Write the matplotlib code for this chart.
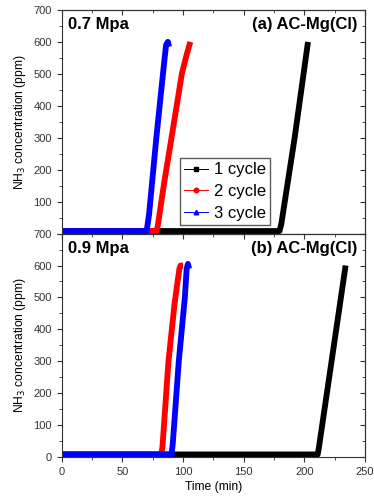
import matplotlib
matplotlib.use('Agg')
import matplotlib.pyplot as plt
from matplotlib.lines import Line2D

plt.rcParams['font.family'] = ['Liberation Sans', 'DejaVu Sans']

# panel (a) 0.7 MPa
a1_x = [0, 179.5, 181, 192, 203]
a1_y = [8, 8, 30, 300, 600]
a2_x = [0, 78, 79, 84.5, 90.5, 95, 99, 103, 106]
a2_y = [8, 8, 20, 160, 300, 405, 500, 560, 600]
a3_x = [0, 70, 72, 78, 84, 86, 87.5, 88.5]
a3_y = [8, 8, 60, 300, 520, 590, 600, 585]

# panel (b) 0.9 MPa
b1_x = [0, 211, 212, 234]
b1_y = [8, 8, 30, 600]
b2_x = [0, 82, 83, 88, 93, 97, 98, 100]
b2_y = [8, 8, 30, 300, 480, 590, 600, 600]
b3_x = [0, 90.5, 91.5, 96.5, 101.5, 103, 104, 105]
b3_y = [8, 8, 40, 300, 500, 590, 605, 590]

labels = ['1 cycle', '2 cycle', '3 cycle']
colors = ['black', 'red', 'blue']
markers = ['s', 'o', '^']

fig = plt.figure(figsize=(3.74, 4.97), dpi=100)
ax1 = fig.add_axes([0.165, 0.530, 0.811, 0.450])
ax2 = fig.add_axes([0.165, 0.0805, 0.811, 0.4495])

panels = [
    (ax1, [(a1_x, a1_y), (a2_x, a2_y), (a3_x, a3_y)], '0.7 Mpa', '(a) AC-Mg(Cl)'),
    (ax2, [(b1_x, b1_y), (b2_x, b2_y), (b3_x, b3_y)], '0.9 Mpa', '(b) AC-Mg(Cl)'),
]

for ax, series, p, name in panels:
    for (x, y), c in zip(series, colors):
        ax.plot(x, y, color=c, lw=4.2, solid_capstyle='butt', solid_joinstyle='round')
    ax.set_xlim(0, 250)
    ax.set_ylim(0, 700)
    ax.set_yticks(range(0, 701, 100))
    ax.set_yticks(range(0, 701, 50), minor=True)
    ax.set_xticks(range(0, 251, 50))
    ax.set_xticks(range(0, 251, 25), minor=True)
    ax.tick_params(which='both', direction='out', labelsize=8, colors='#333333')
    ax.tick_params(which='major', length=3.5)
    ax.tick_params(which='minor', length=2)
    for s in ax.spines.values():
        s.set_color('#333333')
    sy = ax.secondary_yaxis('right')
    sy.set_yticks(range(0, 701, 100))
    sy.set_yticks(range(0, 701, 50), minor=True)
    sy.tick_params(which='both', direction='in', labelright=False, colors='#333333')
    sy.tick_params(which='major', length=3.5)
    sy.tick_params(which='minor', length=2)
    sx = ax.secondary_xaxis('top')
    sx.set_xticks(range(0, 251, 50))
    sx.set_xticks(range(0, 251, 25), minor=True)
    sx.tick_params(which='both', direction='in', labeltop=False, colors='#333333')
    sx.tick_params(which='major', length=3.5)
    sx.tick_params(which='minor', length=2)
    ax.set_ylabel('NH$_3$ concentration (ppm)', fontsize=8.7, labelpad=4)
    ax.text(0.02, 0.933, p, transform=ax.transAxes, fontsize=12,
            fontweight='bold', va='center', ha='left')
    ax.text(0.974, 0.933, name, transform=ax.transAxes, fontsize=12,
            fontweight='bold', va='center', ha='right')

ax1.tick_params(axis='x', labelbottom=False)
ax1.set_yticklabels([''] + [str(v) for v in range(100, 701, 100)])
ax2.set_xlabel('Time (min)', fontsize=8.7, labelpad=3)

handles = [Line2D([], [], color=c, marker=m, lw=0.7, markersize=3.3)
           for c, m in zip(colors, markers)]
ax1.legend(handles, labels, loc='lower left', bbox_to_anchor=(0.39, 0.039),
           fontsize=12, frameon=True, fancybox=False, edgecolor='#333333',
           handlelength=1.4, handletextpad=0.4, borderpad=0.25,
           labelspacing=0.4, borderaxespad=0)

fig.savefig('out.png', dpi=100)
